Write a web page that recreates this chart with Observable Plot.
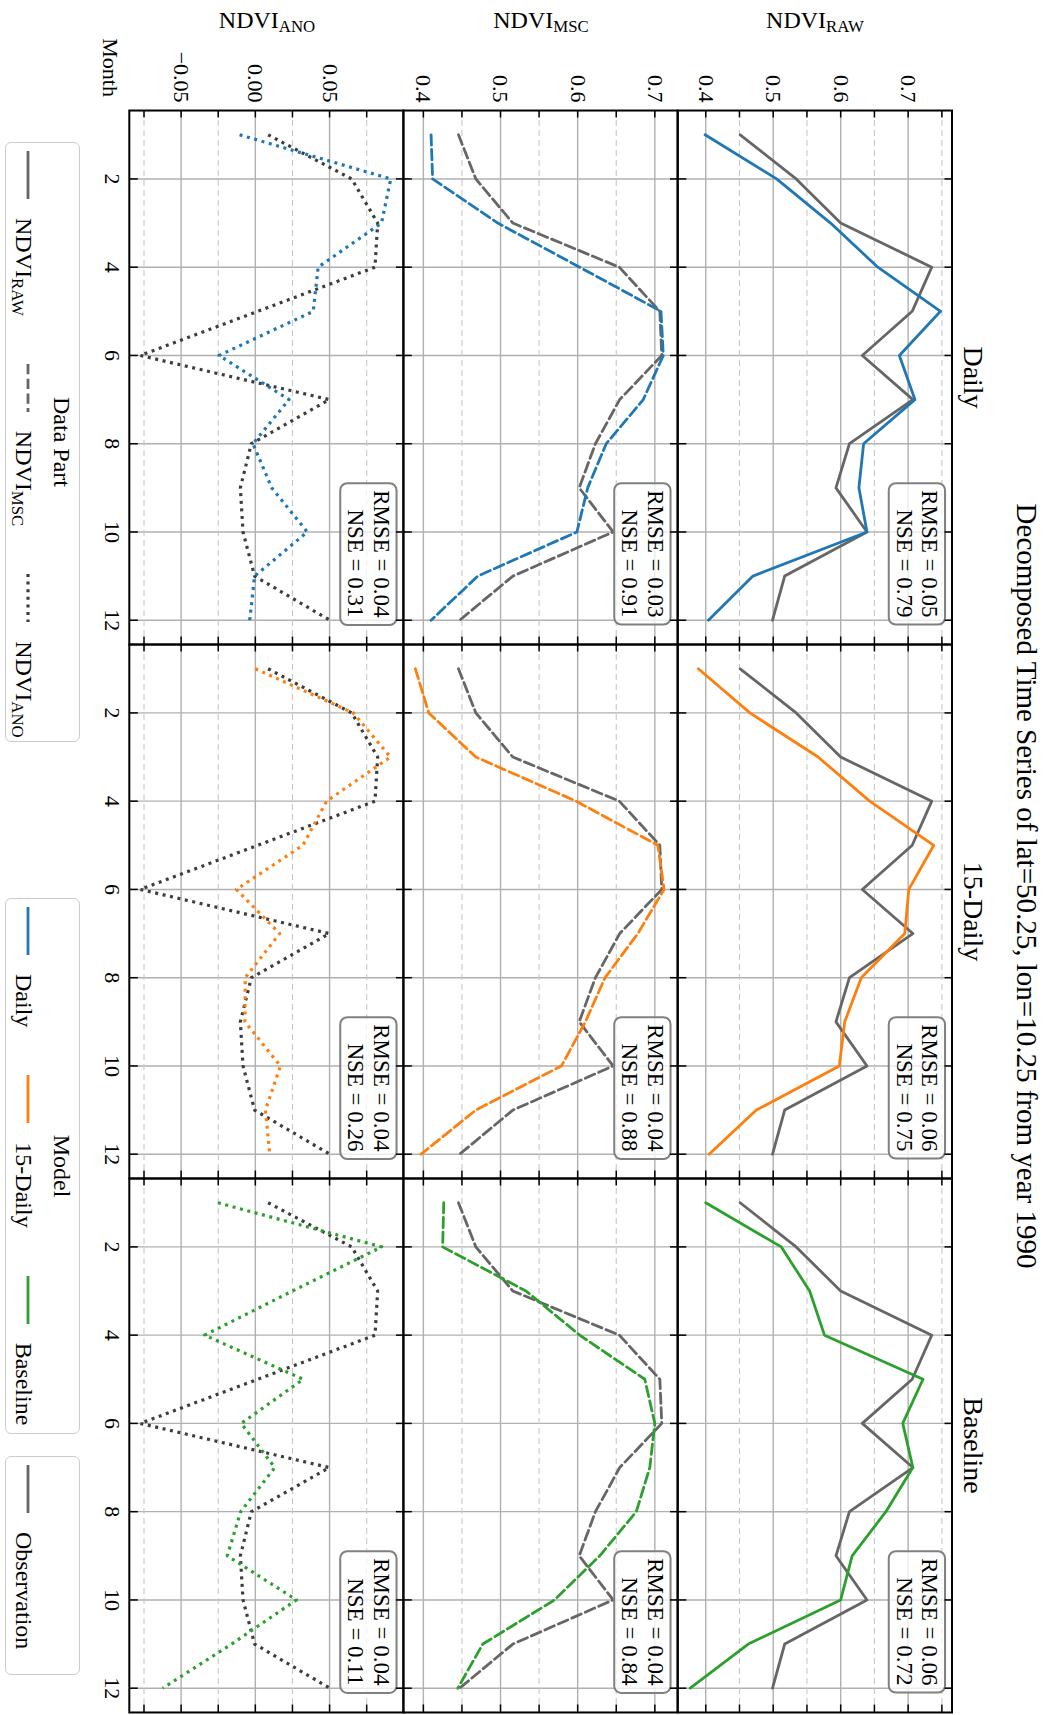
<!DOCTYPE html>
<html>
<head>
<meta charset="utf-8">
<title>Decomposed Time Series</title>
<script src="https://cdn.jsdelivr.net/npm/d3@7"></script>
<script src="https://cdn.jsdelivr.net/npm/@observablehq/plot@0.6"></script>
<style>
  html, body { margin: 0; padding: 0; background: #fff; }
  body { width: 1047px; height: 1715px; overflow: hidden; position: relative; }
  /* the figure is laid out landscape and turned a quarter clockwise onto the page */
  #figure { position: absolute; left: 0; top: 0; width: 1715px; height: 1047px; background: #fff;
            transform-origin: 0 0; transform: translate(1047px, 0) rotate(90deg);
            font-family: "Liberation Serif", "Times New Roman", Times, serif; color: #000; }
  #figure > * { position: absolute; }
  .suptitle { font-size: 29px; white-space: nowrap; transform: translateX(-50%); line-height: 1; }
  .rowlabel { font-size: 24px; white-space: nowrap; transform: translate(-50%, -50%) rotate(-90deg); line-height: 1; }
  sub { font-size: 70%; vertical-align: -0.22em; line-height: 0; }
  .monthlabel { font-size: 22px; line-height: 1; text-align: right; }
  .legend { box-sizing: border-box; border: 1.5px solid #ccc; border-radius: 6px; background: #fff;
            font-size: 24px; line-height: 1; }
  .legend .ltitle { text-align: center; height: 24px; margin-top: 5px; }
  .legend .lrow { display: flex; align-items: center; margin-top: 14px; padding-left: 8px; height: 24px; }
  .legend .item { display: flex; align-items: center; margin-right: 48px; }
  .legend .item:last-child { margin-right: 0; }
  .legend .item svg { width: 48px; height: 10px; margin-right: 19px; margin-top: -8px; overflow: visible; }
</style>
</head>
<body>
<div id="figure"></div>
<script>
// ---- data -----------------------------------------------------------------
const months = [1, 2, 3, 4, 5, 6, 7, 8, 9, 10, 11, 12];
const models = ["Daily", "15-Daily", "Baseline"];
const partNames = ["RAW", "MSC", "ANO"];

// observation (shared by every model column)
const obsRaw = [0.451, 0.534, 0.600, 0.735, 0.706, 0.632, 0.707, 0.613, 0.593, 0.639, 0.517, 0.499];
const obsMsc = [0.4455, 0.468, 0.516, 0.654, 0.7065, 0.709, 0.6545, 0.623, 0.602, 0.646, 0.516, 0.447];
const obsAno = [0.0086, 0.0649, 0.0824, 0.0806, 0.0016, -0.0775, 0.0498, -0.0027, -0.0101, -0.0083, -0.0005, 0.0502];

// Daily model
const dailyRaw = [0.399, 0.505, 0.585, 0.655, 0.748, 0.687, 0.710, 0.634, 0.627, 0.639, 0.470, 0.404];
const dailyMsc = [0.410, 0.412, 0.4965, 0.6026, 0.708, 0.711, 0.685, 0.637, 0.613, 0.599, 0.4705, 0.410];
const dailyAno = [-0.0106, 0.0912, 0.085, 0.0423, 0.039, -0.0245, 0.0227, -0.0016, 0.011, 0.035, -0.0005, -0.0038];

// 15-Daily model
const fifteenRaw = [0.389, 0.4655, 0.5665, 0.643, 0.738, 0.701, 0.695, 0.6305, 0.606, 0.598, 0.475, 0.405];
const fifteenMsc = [0.3896, 0.407, 0.468, 0.598, 0.704, 0.712, 0.678, 0.6355, 0.610, 0.579, 0.468, 0.397];
const fifteenAno = [0.000, 0.066, 0.091, 0.048, 0.032, -0.0128, 0.0164, -0.0068, -0.007, 0.0169, 0.0068, 0.0097];

// Baseline model
const baselineRaw = [0.400, 0.512, 0.554, 0.576, 0.722, 0.692, 0.707, 0.667, 0.617, 0.600, 0.463, 0.377];
const baselineMsc = [0.4264, 0.425, 0.533, 0.6026, 0.687, 0.700, 0.6935, 0.676, 0.6286, 0.570, 0.477, 0.4446];
const baselineAno = [-0.0252, 0.0851, 0.025, -0.0342, 0.0322, -0.0095, 0.0131, -0.0099, -0.0189, 0.0277, -0.016, -0.0624];

// scores per model column (Daily, 15-Daily, Baseline)
const rmseRaw = [0.05, 0.06, 0.06];
const nseRaw  = [0.79, 0.75, 0.72];
const rmseMsc = [0.03, 0.04, 0.04];
const nseMsc  = [0.91, 0.88, 0.84];
const rmseAno = [0.04, 0.04, 0.04];
const nseAno  = [0.31, 0.26, 0.11];

// ticks
const monthTicks = [2, 4, 6, 8, 10, 12];
const rawTicks = [0.4, 0.5, 0.6, 0.7], rawMinor = [0.45, 0.55, 0.65, 0.75];
const mscTicks = [0.4, 0.5, 0.6, 0.7], mscMinor = [0.45, 0.55, 0.65];
const anoTicks = [-0.05, 0.00, 0.05], anoMinor = [-0.075, -0.025, 0.025, 0.075];

const titleText = "Decomposed Time Series of lat=50.25, lon=10.25 from year 1990";

// ---- style & layout ---------------------------------------------------------
const FONT = '"Liberation Serif", "Times New Roman", Times, serif';
const modelColor = {"Daily": "#1f77b4", "15-Daily": "#ff7f0e", "Baseline": "#2ca02c"};
const OBS_COLOR = "#666666", OBS_DOT_COLOR = "#3d3d3d";
const GRID = "#b0b0b0", MINOR_GRID = "#c8c8c8";
const LINE_W = 2.8, DOT_W = 3.2, DASH = "10.3,4.4", DOT = "3,4.6";
const STYLE_OF = {
  RAW: {strokeWidth: LINE_W},
  MSC: {strokeWidth: LINE_W, strokeDasharray: DASH},
  ANO: {strokeWidth: DOT_W, strokeDasharray: DOT, strokeLinecap: "butt"}
};
const OBS_COLOR_OF = {RAW: OBS_COLOR, MSC: OBS_COLOR, ANO: OBS_DOT_COLOR};

const FIG_W = 1715;
const PANEL_LEFT = 109.5, PANEL_RIGHT = 1713;
const PANEL_TOP = 94.5, PANEL_H = 274.2;
const PANEL_W = (PANEL_RIGHT - PANEL_LEFT) / models.length;
const TICK = 8;

const rows = [
  {part: "RAW", domain: [0.3586, 0.765], major: rawTicks, minor: rawMinor, format: d3.format(".1f"),
   obs: obsRaw, series: [dailyRaw, fifteenRaw, baselineRaw], rmse: rmseRaw, nse: nseRaw},
  {part: "MSC", domain: [0.374, 0.7294], major: mscTicks, minor: mscMinor, format: d3.format(".1f"),
   obs: obsMsc, series: [dailyMsc, fifteenMsc, baselineMsc], rmse: rmseMsc, nse: nseMsc},
  {part: "ANO", domain: [-0.0849, 0.0998], major: anoTicks, minor: anoMinor, format: d3.format(".2f"),
   obs: obsAno, series: [dailyAno, fifteenAno, baselineAno], rmse: rmseAno, nse: nseAno}
];

const fig = document.getElementById("figure");
function put(el, left, top) { el.style.left = left + "px"; el.style.top = top + "px"; fig.appendChild(el); return el; }

// ---- one faceted plot per data part -------------------------------------
rows.forEach((row, i) => {
  const first = i === 0, last = i === rows.length - 1;
  const marginTop = first ? PANEL_TOP : 0;
  const marginBottom = last ? 60 : 0;
  const lineStyle = STYLE_OF[row.part];

  const obsData = models.flatMap(m => months.map((mo, j) => ({model: m, month: mo, value: row.obs[j]})));
  const modelLines = models.map((m, k) =>
    Plot.line(months.map((mo, j) => ({model: m, month: mo, value: row.series[k][j]})),
      {x: "month", y: "value", fx: "model", stroke: modelColor[m], strokeLinejoin: "round", ...lineStyle}));
  const scores = models.map((m, k) => ({model: m, text: `RMSE = ${row.rmse[k].toFixed(2)}\nNSE = ${row.nse[k].toFixed(2)}`}));
  const yTicks = row.major.concat(row.minor);

  const marks = [
    Plot.gridX(monthTicks, {stroke: GRID, strokeOpacity: 1, strokeWidth: 1.4}),
    Plot.gridY(row.minor, {stroke: MINOR_GRID, strokeOpacity: 1, strokeWidth: 1.1, strokeDasharray: "6,4"}),
    Plot.gridY(row.major, {stroke: GRID, strokeOpacity: 1, strokeWidth: 1.4}),
    Plot.line(obsData, {x: "month", y: "value", fx: "model", stroke: OBS_COLOR_OF[row.part], strokeLinejoin: "round", ...lineStyle}),
    ...modelLines,
    Plot.text(scores, {fx: "model", text: "text", frameAnchor: "top-right", textAnchor: "end", lineAnchor: "top",
      dx: -27, dy: 12, fontSize: 23, lineHeight: 1.1, fontFamily: FONT, fill: "black"}),
    Plot.frame({stroke: "black", strokeWidth: 2}),
    // inward ticks on all four sides of every panel
    Plot.tickY(yTicks, {stroke: "black", strokeWidth: 1.5, insetRight: PANEL_W - TICK}),
    Plot.tickY(yTicks, {stroke: "black", strokeWidth: 1.5, insetLeft: PANEL_W - TICK}),
    Plot.tickX(monthTicks, {stroke: "black", strokeWidth: 1.5, insetBottom: PANEL_H - TICK}),
    Plot.tickX(monthTicks, {stroke: "black", strokeWidth: 1.5, insetTop: PANEL_H - TICK}),
    Plot.axisY(row.major, {anchor: "left", tickSize: 0, tickPadding: 8, tickFormat: row.format, label: null,
      fontSize: 22, fontFamily: FONT, fill: "black"})
  ];
  if (first) {
    marks.push(Plot.text(models, {fx: d => d, text: d => d, frameAnchor: "top", lineAnchor: "bottom", dy: -12,
      fontSize: 28, fontFamily: FONT, fill: "black"}));
  }
  if (last) {
    marks.push(Plot.axisX(monthTicks, {anchor: "bottom", tickSize: 0, tickPadding: 9, label: null,
      fontSize: 22, fontFamily: FONT, fill: "black"}));
  }

  const svg = Plot.plot({
    width: FIG_W,
    height: marginTop + PANEL_H + marginBottom,
    marginLeft: PANEL_LEFT, marginRight: FIG_W - PANEL_RIGHT,
    marginTop, marginBottom,
    style: {background: "transparent", overflow: "visible", fontFamily: FONT},
    fx: {domain: models, padding: 0, axis: null},
    x: {domain: [0.45, 12.55], axis: null},
    y: {domain: row.domain, axis: null},
    marks
  });
  put(svg, 0, first ? 0 : PANEL_TOP + i * PANEL_H);

  // rounded score boxes behind the RMSE / NSE text
  for (const t of Array.from(svg.querySelectorAll("text"))) {
    if (!t.textContent.startsWith("RMSE")) continue;
    const b = t.getBBox();
    const r = document.createElementNS("http://www.w3.org/2000/svg", "rect");
    const px = 7, py = 3;
    r.setAttribute("x", b.x - px);
    r.setAttribute("y", b.y - py);
    r.setAttribute("width", b.width + 2 * px);
    r.setAttribute("height", b.height + 2 * py);
    r.setAttribute("rx", 7);
    r.setAttribute("fill", "white");
    r.setAttribute("fill-opacity", 0.75);
    r.setAttribute("stroke", "#808080");
    r.setAttribute("stroke-width", 2);
    if (t.getAttribute("transform")) r.setAttribute("transform", t.getAttribute("transform"));
    t.parentNode.insertBefore(r, t);
  }

  // row label
  const lab = document.createElement("div");
  lab.className = "rowlabel";
  lab.innerHTML = `NDVI<sub>${row.part}</sub>`;
  put(lab, 19.5, PANEL_TOP + (i + 0.5) * PANEL_H);
});

// ---- title and axis caption -------------------------------------------------
const title = document.createElement("div");
title.className = "suptitle";
title.textContent = titleText;
put(title, 886, 6);

const monthLab = document.createElement("div");
monthLab.className = "monthlabel";
monthLab.textContent = "Month";
monthLab.style.width = "97px";
put(monthLab, 0, 926);

// ---- legends ------------------------------------------------------------
function sample(color, dash, width) {
  const dashAttr = dash ? ` stroke-dasharray="${dash}"` : "";
  return `<svg viewBox="0 0 48 10"><line x1="0" y1="5" x2="48" y2="5" stroke="${color}" stroke-width="${width}"${dashAttr}/></svg>`;
}
function legend(titleHtml, entries, left, width) {
  const box = document.createElement("div");
  box.className = "legend";
  box.style.width = width + "px";
  box.style.height = "75px";
  box.innerHTML = `<div class="ltitle">${titleHtml}</div><div class="lrow">` +
    entries.map(e => `<div class="item">${sample(e.color, e.dash, e.width || LINE_W)}<span>${e.label}</span></div>`).join("") +
    `</div>`;
  put(box, left, 967);
}
const dashOf = {RAW: null, MSC: DASH, ANO: DOT};
legend("Data Part", partNames.map(p => ({
  label: `NDVI<sub>${p}</sub>`, color: OBS_COLOR_OF[p], dash: dashOf[p], width: STYLE_OF[p].strokeWidth
})), 142, 600);
legend("Model", models.map(m => ({label: m, color: modelColor[m], dash: null})), 898, 536);
legend("", [{label: "Observation", color: OBS_COLOR, dash: null}], 1456, 219);
</script>
</body>
</html>
